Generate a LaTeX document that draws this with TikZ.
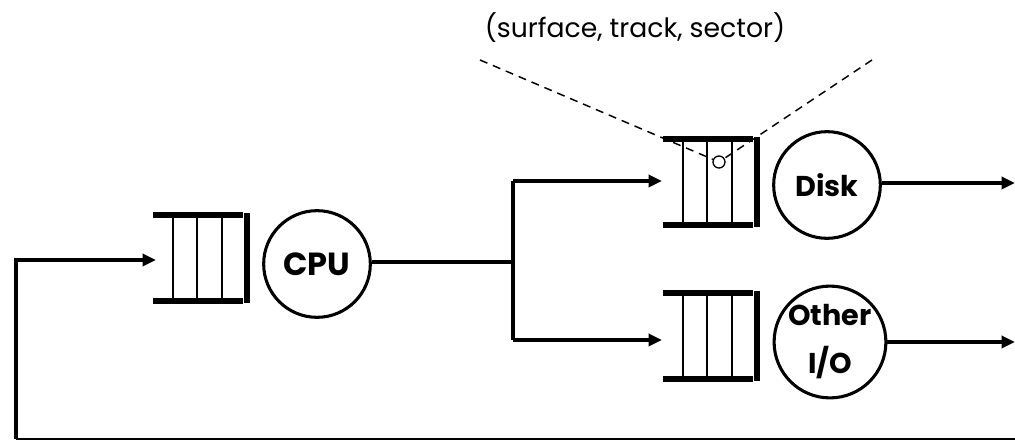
\documentclass[tikz,border=0pt]{standalone}
\usepackage{fontspec}
\setmainfont{Poppins}
\usetikzlibrary{arrows.meta}
\begin{document}
\begin{tikzpicture}[x=0.75pt,y=-0.75pt,
  conn/.style={line width=3pt},
  arr/.style={conn,-{Triangle[length=10pt,width=9pt]}},
  bar/.style={line width=3.8pt},
  slat/.style={line width=1.2pt},
  proc/.style={circle,draw,line width=2.3pt,minimum size=80pt,inner sep=0pt,font=\bfseries\fontsize{21.5}{36}\selectfont,align=center},
  lead/.style={line width=1.1pt,dash pattern=on 6pt off 4.5pt},
  queue/.pic={
    \draw[bar] (0,0) -- (90,0);
    \draw[bar] (0,86) -- (90,86);
    \foreach \xx in {20,44,69} \draw[slat] (\xx,0) -- (\xx,86);
    \draw[bar] (94,-2) -- (94,88);
  }]
\useasboundingbox (0,0) rectangle (1015,445);
% queues
\pic at (153,215) {queue};
\pic at (663,139) {queue};
\pic at (663,293) {queue};
\coordinate (cq) at (156,260);
\coordinate (dq) at (662,181);
\coordinate (oq) at (662,340);
% servers
\node[proc,font=\bfseries\fontsize{24}{28}\selectfont] (cpu) at (317,264) {CPU};
\node[proc] (disk) at (827,185) {Disk};
\node[proc] (other) at (830,342) {Other\\I/O};
% label and sector mark
\node[font=\fontsize{20}{24}\selectfont] (lbl) at (635,28) {(surface, track, sector)};
\node[circle,draw,line width=1pt,minimum size=9pt,inner sep=0pt] (sec) at (719,162) {};
\coordinate (l1) at (480,60);
\coordinate (l2) at (872,60);
\draw[lead] (l1) -- (sec);
\draw[lead] (l2) -- (sec);
% connectors
\coordinate (br) at (513,262);
\coordinate (brt) at (513,181);
\coordinate (brb) at (513,340);
\draw[conn] (cpu.east |- br) -- (br);
\draw[conn] (brt) -- (brb);
\draw[arr] (brt) -- (dq);
\draw[arr] (brb) -- (oq);
\coordinate (dout) at (1015,183);
\coordinate (oout) at (1015,342);
\draw[arr] (disk.east |- dout) -- (dout);
\draw[arr] (other.east |- oout) -- (oout);
% feedback
\coordinate (fb1) at (1015,439);
\coordinate (fb2) at (16,439);
\coordinate (fb3) at (16,260);
\draw[line width=1.6pt] (fb1) -- (fb2);
\draw[arr] (fb2) -- (fb3) -- (cq);
\end{tikzpicture}
\end{document}
